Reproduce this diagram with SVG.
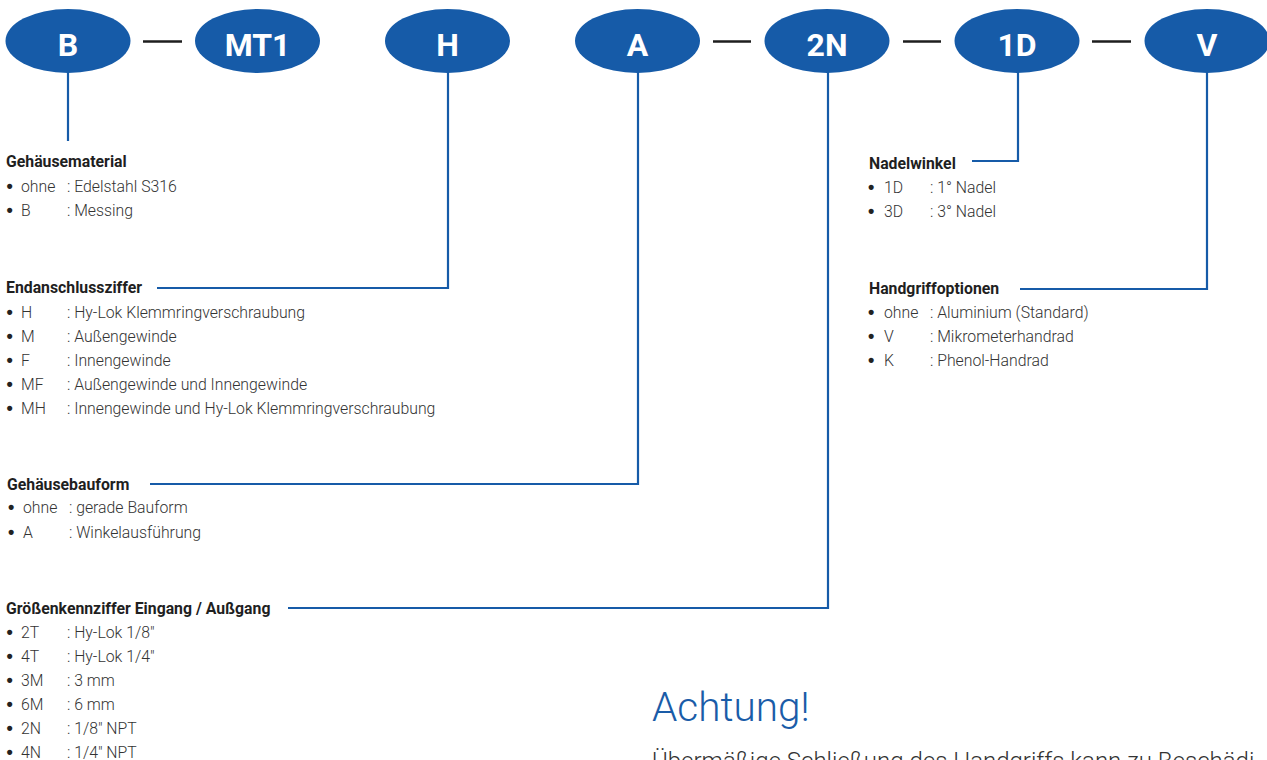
<svg xmlns="http://www.w3.org/2000/svg" width="1267" height="760" viewBox="0 0 1267 760">
<style>
.el{fill:#165BA8}
.code{font-family:Roboto,"Liberation Sans",sans-serif;font-weight:bold;font-size:32px;fill:#fff;text-anchor:middle}
.dash{stroke:#1e1e1e;stroke-width:2.5}
.lk{stroke:#165BA8;stroke-width:2.2;fill:none}
.h{font-family:Roboto,"Liberation Sans",sans-serif;font-weight:bold;font-size:15.8px;fill:#1f1f1f}
.t{font-family:Roboto,"Liberation Sans",sans-serif;font-weight:300;font-size:15.8px;fill:#333}
.b{font-family:"Liberation Sans",sans-serif;font-weight:bold;font-size:18px;fill:#222}
.ach{font-family:Roboto,"Liberation Sans",sans-serif;font-weight:300;font-size:40.5px;fill:#1A5CA8}
.body{font-family:Roboto,"Liberation Sans",sans-serif;font-weight:300;font-size:24px;fill:#333}
</style>
<rect width="1267" height="760" fill="#fff"/>
<g id="connectors">
<line class="dash" x1="143" y1="41.5" x2="182" y2="41.5"/>
<line class="dash" x1="713" y1="41.5" x2="751" y2="41.5"/>
<line class="dash" x1="903" y1="41.5" x2="941" y2="41.5"/>
<line class="dash" x1="1092" y1="41.5" x2="1131" y2="41.5"/>
<polyline class="lk" points="68,72 68,141"/>
<polyline class="lk" points="448,72 448,288 157,288"/>
<polyline class="lk" points="638,72 638,484 150,484"/>
<polyline class="lk" points="828,72 828,608 288,608"/>
<polyline class="lk" points="1018,72 1018,161 972,161"/>
<polyline class="lk" points="1207,72 1207,289 1020,289"/>
</g>
<g id="node-B"><ellipse class="el" cx="68" cy="41" rx="62.5" ry="32"/><text class="code" x="68" y="56">B</text></g>
<g id="node-MT1"><ellipse class="el" cx="257.5" cy="41" rx="62.5" ry="32"/><text class="code" x="257.5" y="56">MT1</text></g>
<g id="node-H"><ellipse class="el" cx="447.5" cy="41" rx="62.5" ry="32"/><text class="code" x="447.5" y="56">H</text></g>
<g id="node-A"><ellipse class="el" cx="637.5" cy="41" rx="62.5" ry="32"/><text class="code" x="637.5" y="56">A</text></g>
<g id="node-2N"><ellipse class="el" cx="827" cy="41" rx="62.5" ry="32"/><text class="code" x="827" y="56">2N</text></g>
<g id="node-1D"><ellipse class="el" cx="1017" cy="41" rx="62.5" ry="32"/><text class="code" x="1017" y="56">1D</text></g>
<g id="node-V"><ellipse class="el" cx="1207" cy="41" rx="62.5" ry="32"/><text class="code" x="1207" y="56">V</text></g>

<g id="sec-gehaeusematerial">
<text class="h" x="6" y="167">Gehäusematerial</text>
<text class="b" x="6.5" y="191.5">•</text><text class="t" x="21" y="191.5">ohne</text><text class="t" x="67" y="191.5">: Edelstahl S316</text>
<text class="b" x="6.5" y="216">•</text><text class="t" x="21" y="216">B</text><text class="t" x="67" y="216">: Messing</text>
</g>
<g id="sec-endanschluss">
<text class="h" x="6" y="293">Endanschlussziffer</text>
<text class="b" x="6.5" y="318">•</text><text class="t" x="21" y="318">H</text><text class="t" x="67" y="318">: Hy-Lok Klemmringverschraubung</text>
<text class="b" x="6.5" y="342">•</text><text class="t" x="21" y="342">M</text><text class="t" x="67" y="342">: Außengewinde</text>
<text class="b" x="6.5" y="366">•</text><text class="t" x="21" y="366">F</text><text class="t" x="67" y="366">: Innengewinde</text>
<text class="b" x="6.5" y="390">•</text><text class="t" x="21" y="390">MF</text><text class="t" x="67" y="390">: Außengewinde und Innengewinde</text>
<text class="b" x="6.5" y="414">•</text><text class="t" x="21" y="414">MH</text><text class="t" x="67" y="414">: Innengewinde und Hy-Lok Klemmringverschraubung</text>
</g>
<g id="sec-bauform">
<text class="h" x="7" y="490">Gehäusebauform</text>
<text class="b" x="8" y="513">•</text><text class="t" x="23" y="513">ohne</text><text class="t" x="69" y="513">: gerade Bauform</text>
<text class="b" x="8" y="538">•</text><text class="t" x="23" y="538">A</text><text class="t" x="69" y="538">: Winkelausführung</text>
</g>
<g id="sec-groesse">
<text class="h" x="6" y="614">Größenkennziffer Eingang / Außgang</text>
<text class="b" x="6.5" y="638">•</text><text class="t" x="21" y="638">2T</text><text class="t" x="67" y="638">: Hy-Lok 1/8"</text>
<text class="b" x="6.5" y="662">•</text><text class="t" x="21" y="662">4T</text><text class="t" x="67" y="662">: Hy-Lok 1/4"</text>
<text class="b" x="6.5" y="686">•</text><text class="t" x="21" y="686">3M</text><text class="t" x="67" y="686">: 3 mm</text>
<text class="b" x="6.5" y="710">•</text><text class="t" x="21" y="710">6M</text><text class="t" x="67" y="710">: 6 mm</text>
<text class="b" x="6.5" y="733.5">•</text><text class="t" x="21" y="733.5">2N</text><text class="t" x="67" y="733.5">: 1/8" NPT</text>
<text class="b" x="6.5" y="757.5">•</text><text class="t" x="21" y="757.5">4N</text><text class="t" x="67" y="757.5">: 1/4" NPT</text>
</g>
<g id="sec-nadelwinkel">
<text class="h" x="869" y="169">Nadelwinkel</text>
<text class="b" x="868" y="193">•</text><text class="t" x="884" y="193">1D</text><text class="t" x="930" y="193">: 1° Nadel</text>
<text class="b" x="868" y="217">•</text><text class="t" x="884" y="217">3D</text><text class="t" x="930" y="217">: 3° Nadel</text>
</g>
<g id="sec-handgriff">
<text class="h" x="869" y="294">Handgriffoptionen</text>
<text class="b" x="868" y="318">•</text><text class="t" x="884" y="318">ohne</text><text class="t" x="930" y="318">: Aluminium (Standard)</text>
<text class="b" x="868" y="342">•</text><text class="t" x="884" y="342">V</text><text class="t" x="930" y="342">: Mikrometerhandrad</text>
<text class="b" x="868" y="366">•</text><text class="t" x="884" y="366">K</text><text class="t" x="930" y="366">: Phenol-Handrad</text>
</g>
<g id="achtung">
<text class="ach" x="652" y="721">Achtung!</text>
<text class="body" x="652" y="769">Übermäßige Schließung des Handgriffs kann zu Beschädi-</text>
</g>
</svg>
